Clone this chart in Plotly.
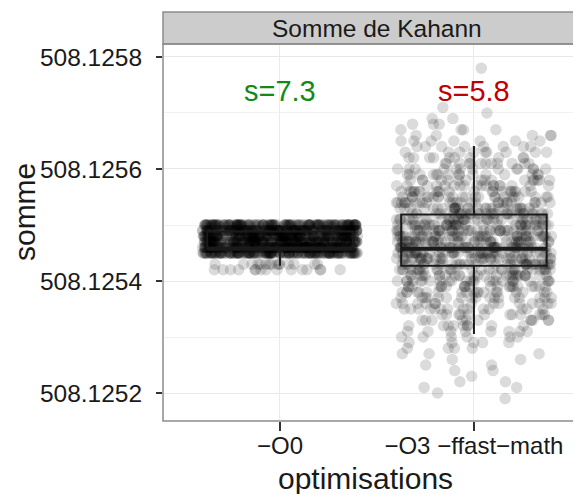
import numpy as np
import plotly.graph_objects as go

FONT = "Liberation Sans, Arial, sans-serif"
INK = "#1a1a1a"

categories = ["\u2212O0", "\u2212O3 \u2212ffast\u2212math"]

# jittered sums as they appear on the picture, grouped in 1e-5 bins, with point counts
o0_somme = [508.12542, 508.12543, 508.12545, 508.12546, 508.12547, 508.12548, 508.12549, 508.12550]
o0_count = [15, 15, 167, 167, 166, 157, 157, 156]

o3_somme = [
    508.12519, 508.12520, 508.12521, 508.12522, 508.12523, 508.12524, 508.12525,
    508.12526, 508.12527, 508.12528, 508.12529, 508.12530, 508.12531, 508.12532,
    508.12533, 508.12534, 508.12535, 508.12536, 508.12537, 508.12538, 508.12539,
    508.12540, 508.12541, 508.12542, 508.12543, 508.12544, 508.12545, 508.12546,
    508.12547, 508.12548, 508.12549, 508.12550, 508.12551, 508.12552, 508.12553,
    508.12554, 508.12555, 508.12556, 508.12557, 508.12558, 508.12559, 508.12560,
    508.12561, 508.12562, 508.12563, 508.12564, 508.12565, 508.12566, 508.12567,
    508.12568, 508.12569, 508.12570, 508.12571, 508.12578,
]
o3_count = [
    1, 1, 2, 2, 1, 2, 2,
    2, 3, 4, 5, 6, 8, 9,
    11, 12, 14, 15, 17, 19, 22,
    24, 27, 30, 34, 37, 40, 42,
    42, 40, 38, 36, 34, 31, 29,
    26, 23, 21, 18, 16, 15, 13,
    12, 10, 9, 8, 7, 5, 4,
    3, 2, 1, 1, 1,
]

# boxplot statistics per group
box_q1 = [508.1254578, 508.1254272]
box_median = [508.1254578, 508.1254578]
box_q3 = [508.1254883, 508.1255188]
box_lower = [508.1254272, 508.1253052]
box_upper = [508.1254883, 508.1256409]

labels = ["s=7.3", "s=5.8"]
label_colors = ["#138a13", "#c00000"]
label_y = 508.12574

fig = go.Figure()

# plotly narrows the jitter where points are sparse, so the thin tails get their own trace
groups = [(categories[0], o0_somme, o0_count), (categories[1], o3_somme, o3_count)]
dense_x, dense_y, sparse_x, sparse_y = [], [], [], []
for cat, somme, count in groups:
    for value, n in zip(somme, count):
        if n >= 10:
            dense_x += [cat] * n
            dense_y += [value] * n
        else:
            sparse_x += [cat] * n
            sparse_y += [value] * n

for xs, ys in [(dense_x, dense_y), (sparse_x, sparse_y)]:
    fig.add_trace(
        go.Box(
            x=xs,
            y=ys,
            boxpoints="all",
            jitter=1,
            pointpos=0,
            width=0.8,
            fillcolor="rgba(0,0,0,0)",
            line={"color": "rgba(0,0,0,0)", "width": 0},
            marker={"color": "rgba(0,0,0,0.14)", "size": 11.5, "line": {"width": 0}},
            hoverinfo="skip",
        )
    )

fig.add_trace(
    go.Box(
        x=categories,
        q1=box_q1,
        median=box_median,
        q3=box_q3,
        lowerfence=box_lower,
        upperfence=box_upper,
        width=0.75,
        whiskerwidth=0,
        boxpoints=False,
        fillcolor="rgba(0,0,0,0)",
        line={"color": INK, "width": 2},
        hoverinfo="skip",
    )
)

# thicker median line, as ggplot draws it
fig.add_trace(
    go.Box(
        x=categories,
        q1=box_median,
        median=box_median,
        q3=box_median,
        lowerfence=box_median,
        upperfence=box_median,
        width=0.75,
        whiskerwidth=0,
        boxpoints=False,
        fillcolor="rgba(0,0,0,0)",
        line={"color": INK, "width": 4},
        hoverinfo="skip",
    )
)

annotations = []
for cat, text, color in zip(categories, labels, label_colors):
    annotations.append(
        dict(x=cat, y=label_y, xref="x", yref="y", text=text, showarrow=False,
             xanchor="center", yanchor="middle",
             font={"size": 29, "color": color, "family": FONT})
    )

annotations += [
    dict(text="Somme de Kahann", xref="paper", yref="paper", x=0.5108, y=1.0424,
         xanchor="center", yanchor="middle", showarrow=False,
         font={"size": 24.5, "color": INK, "family": FONT}),
    dict(text="somme", xref="paper", yref="paper", x=-0.330, y=0.5544, textangle=-90,
         xanchor="center", yanchor="middle", showarrow=False,
         font={"size": 30, "color": INK, "family": FONT}),
    dict(text="optimisations", xref="paper", yref="paper", x=0.4844, y=-0.1512,
         xanchor="center", yanchor="middle", showarrow=False,
         font={"size": 30, "color": INK, "family": FONT}),
]

# the page adds 8px of body margin, so the figure is 8px smaller than the window
fig.update_layout(
    width=573,
    height=486,
    margin={"l": 155, "r": 0, "t": 36, "b": 73},
    paper_bgcolor="white",
    plot_bgcolor="white",
    showlegend=False,
    font={"family": FONT, "color": INK},
    annotations=annotations,
    shapes=[
        dict(type="rect", xref="paper", yref="paper", x0=0, x1=1.0215, y0=1, y1=1.0849,
             fillcolor="#cccccc", line={"color": "#8c8c8c", "width": 1.5}, layer="above"),
        dict(type="rect", xref="paper", yref="paper", x0=0, x1=1.0215, y0=0, y1=1,
             fillcolor="rgba(0,0,0,0)", line={"color": "#8c8c8c", "width": 1.5}, layer="above"),
    ],
)

fig.update_xaxes(
    range=[-0.603, 1.552],
    showgrid=True,
    gridcolor="#ebebeb",
    zeroline=False,
    showline=False,
    ticks="outside",
    ticklen=9,
    tickwidth=2,
    tickcolor="#333333",
    ticklabelstandoff=-6,
    tickfont={"size": 24, "color": INK, "family": FONT},
)

fig.update_yaxes(
    range=[508.12515, 508.1258232],
    tick0=508.1252,
    dtick=0.0002,
    tickformat=".4f",
    showgrid=True,
    gridcolor="#e8e8e8",
    minor={"dtick": 0.0001, "tick0": 508.1251, "showgrid": True, "gridcolor": "#f2f2f2"},
    zeroline=False,
    showline=False,
    ticks="outside",
    ticklen=6,
    tickwidth=2,
    tickcolor="#333333",
    ticklabelstandoff=9,
    tickfont={"size": 24.5, "color": INK, "family": FONT},
)

fig.write_html("out.html")
